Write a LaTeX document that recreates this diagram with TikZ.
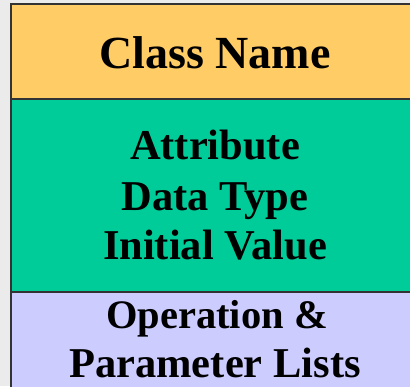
\documentclass[tikz,border=0pt]{standalone}
\usepackage{fontspec}
\setmainfont{Liberation Serif}
\definecolor{nameband}{HTML}{FFCC66}
\definecolor{attrband}{HTML}{00CC99}
\definecolor{operband}{HTML}{CCCCFF}
\definecolor{paper}{HTML}{EBEBEB}
\definecolor{rule}{HTML}{333333}
\tikzset{
  band/.style={draw=rule, line width=1.2pt},
  titletext/.style={anchor=base, inner sep=0pt, font=\bfseries\fontsize{46}{50}\selectfont},
  bodytext/.style={anchor=base, inner sep=0pt, font=\bfseries\fontsize{42.5}{50}\selectfont}
}
\begin{document}
\begin{tikzpicture}[x=1pt,y=1pt]
  \useasboundingbox (0,0) rectangle (410,386);
  \clip (0,0) rectangle (410,386);
  % backdrop
  \fill[paper] (0,0) rectangle (410,386);
  % the three compartments of the class box
  \filldraw[band, fill=operband] (11,-10) rectangle (420,94);
  \filldraw[band, fill=attrband] (11,94) rectangle (420,287);
  \filldraw[band, fill=nameband] (11,287) rectangle (420,382);
  % labels
  \node[titletext] (name) at (215,317) {Class Name};
  \node[bodytext] (attr) at (215,226) {Attribute};
  \node[bodytext] (dtype) at (215,175) {Data Type};
  \node[bodytext] (init) at (215,126) {Initial Value};
  \node[bodytext, font=\bfseries\fontsize{40.5}{50}\selectfont] (oper) at (217,58) {Operation \&};
  \node[bodytext] (params) at (215,9) {Parameter Lists};
\end{tikzpicture}
\end{document}
